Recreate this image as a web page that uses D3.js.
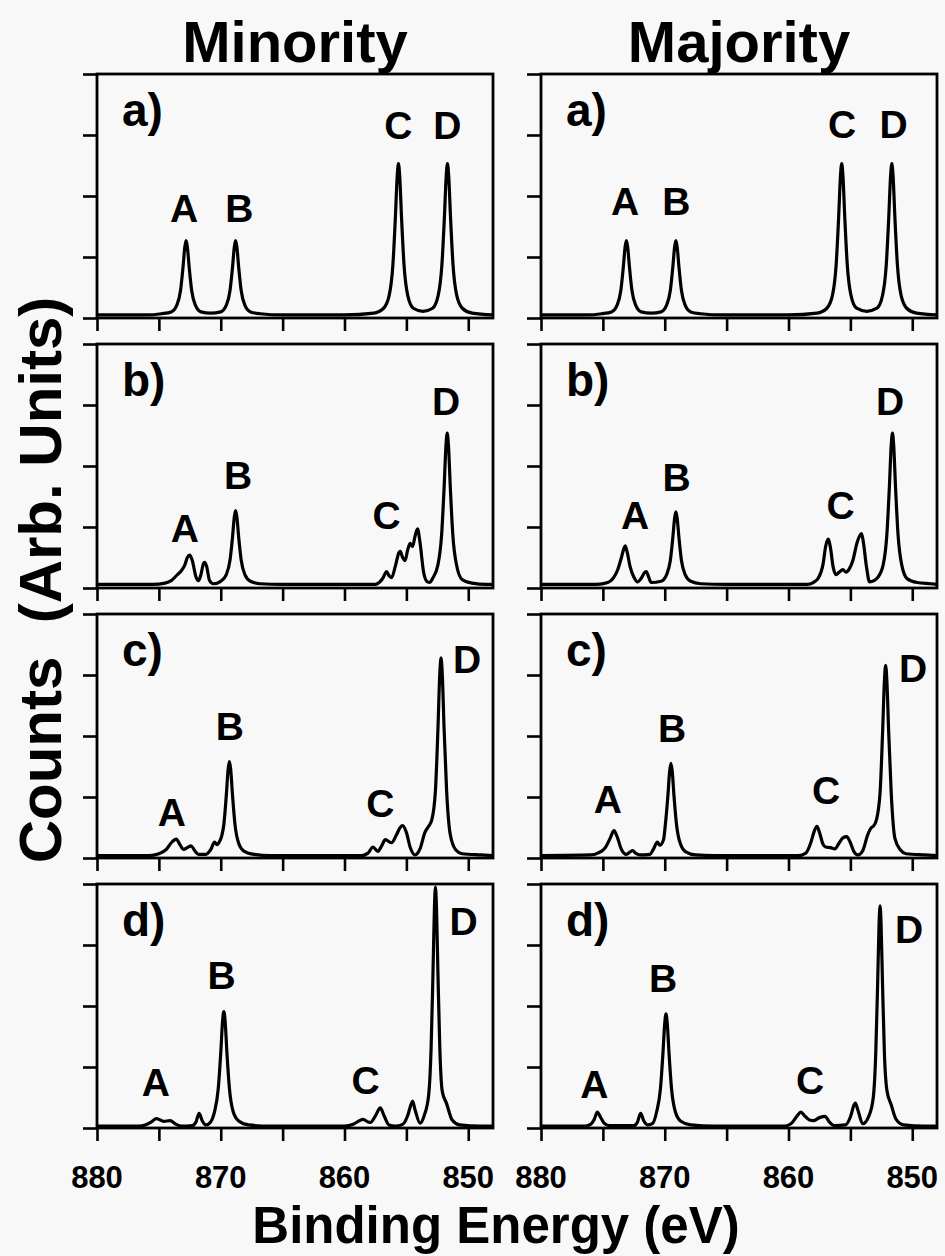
<!DOCTYPE html>
<html>
<head>
<meta charset="utf-8">
<script src="https://cdn.jsdelivr.net/npm/d3@7"></script>
<style>
  body { margin: 0; background: #f8f8f8; }
  text { font-family: "Liberation Sans", Arial, Helvetica, sans-serif; font-weight: bold; fill: #000; }
</style>
</head>
<body>
<svg id="plot"></svg>
<script>
// Axis values
const energyDomain = [880, 848];
const xTicks = [880, 875, 870, 865, 860, 855, 850];
const xTickLabels = [880, 870, 860, 850];
const yTicks = [0, 1, 2, 3, 4];
const columnTitles = ["Minority", "Majority"];
const rowLabels = ["a)", "b)", "c)", "d)"];

// Spectra: [binding energy (eV), counts (arb.)]
const minorityA = [[880,0.05],[876,0.05],[874.8,0.07],[874.0,0.1],[873.55,0.21],[873.25,0.45],[873.05,0.83],[872.9,1.17],[872.8,1.27],[872.7,1.17],[872.55,0.83],[872.35,0.45],[872.05,0.21],[871.6,0.1],[870.8,0.08],[870.0,0.1],[869.55,0.21],[869.25,0.45],[869.05,0.83],[868.9,1.17],[868.8,1.27],[868.7,1.17],[868.55,0.83],[868.35,0.45],[868.05,0.21],[867.6,0.1],[866.8,0.07],[865,0.05],[860,0.05],[857.64,0.08],[856.84,0.16],[856.39,0.37],[856.09,0.87],[855.89,1.64],[855.74,2.33],[855.64,2.53],[855.54,2.33],[855.39,1.64],[855.19,0.87],[854.89,0.37],[854.44,0.16],[853.66,0.11],[852.88,0.16],[852.43,0.37],[852.13,0.87],[851.93,1.64],[851.78,2.33],[851.68,2.53],[851.58,2.33],[851.43,1.64],[851.23,0.87],[850.93,0.37],[850.48,0.16],[849.68,0.08],[848,0.05]];
const majorityA = [[880,0.05],[876.3,0.05],[875.1,0.07],[874.3,0.1],[873.85,0.21],[873.55,0.45],[873.35,0.83],[873.2,1.17],[873.1,1.27],[873.0,1.17],[872.85,0.83],[872.65,0.45],[872.35,0.21],[871.9,0.1],[871.1,0.08],[870.3,0.1],[869.85,0.21],[869.55,0.45],[869.35,0.83],[869.2,1.17],[869.1,1.27],[869.0,1.17],[868.85,0.83],[868.65,0.45],[868.35,0.21],[867.9,0.1],[867.1,0.07],[865.3,0.05],[860,0.05],[857.7,0.08],[856.9,0.16],[856.45,0.37],[856.15,0.87],[855.95,1.64],[855.8,2.33],[855.7,2.53],[855.6,2.33],[855.45,1.64],[855.25,0.87],[854.95,0.37],[854.5,0.16],[853.68,0.11],[852.85,0.16],[852.4,0.37],[852.1,0.87],[851.9,1.64],[851.75,2.33],[851.65,2.53],[851.55,2.33],[851.4,1.64],[851.2,0.87],[850.9,0.37],[850.45,0.16],[849.65,0.08],[848,0.05]];
const minorityB = [[880,0.06],[875.5,0.06],[874.5,0.08],[874.0,0.12],[873.5,0.22],[873.2,0.28],[872.9,0.38],[872.7,0.5],[872.5,0.54],[872.3,0.45],[872.0,0.18],[871.8,0.12],[871.6,0.22],[871.4,0.4],[871.3,0.42],[871.15,0.36],[870.9,0.12],[870.6,0.07],[870.0,0.11],[869.55,0.22],[869.25,0.46],[869.05,0.83],[868.9,1.17],[868.8,1.27],[868.7,1.17],[868.55,0.83],[868.35,0.46],[868.05,0.22],[867.6,0.11],[866.8,0.07],[865,0.06],[860,0.06],[857.5,0.06],[857.2,0.09],[856.9,0.16],[856.6,0.27],[856.4,0.2],[856.2,0.17],[855.9,0.35],[855.6,0.58],[855.5,0.6],[855.3,0.5],[855.1,0.45],[854.9,0.62],[854.7,0.73],[854.5,0.68],[854.3,0.85],[854.1,0.97],[853.9,0.75],[853.6,0.25],[853.3,0.1],[853.1,0.09],[852.9,0.15],[852.45,0.38],[852.15,0.88],[851.95,1.65],[851.8,2.34],[851.7,2.54],[851.6,2.34],[851.45,1.65],[851.25,0.88],[850.95,0.38],[850.5,0.14],[849.7,0.08],[848.5,0.06],[848,0.06]];
const majorityB = [[880,0.06],[875.5,0.06],[874.6,0.09],[874.2,0.15],[873.8,0.3],[873.5,0.5],[873.3,0.65],[873.2,0.69],[873.05,0.6],[872.8,0.35],[872.5,0.18],[872.2,0.1],[871.9,0.16],[871.6,0.26],[871.5,0.27],[871.3,0.18],[871.1,0.09],[870.3,0.11],[869.85,0.22],[869.55,0.45],[869.35,0.82],[869.2,1.15],[869.1,1.25],[869.0,1.15],[868.85,0.82],[868.65,0.45],[868.35,0.22],[867.9,0.11],[867.1,0.07],[865,0.06],[860,0.06],[858.5,0.06],[858.0,0.09],[857.6,0.16],[857.2,0.4],[857.0,0.68],[856.8,0.8],[856.6,0.65],[856.4,0.35],[856.15,0.22],[855.9,0.26],[855.6,0.3],[855.35,0.26],[855.1,0.31],[854.8,0.45],[854.45,0.75],[854.2,0.87],[854.1,0.89],[853.95,0.75],[853.7,0.35],[853.45,0.1],[853.1,0.12],[852.8,0.17],[852.35,0.38],[852.05,0.88],[851.85,1.65],[851.7,2.34],[851.6,2.54],[851.5,2.34],[851.35,1.65],[851.15,0.88],[850.85,0.38],[850.4,0.15],[849.6,0.09],[848.5,0.07],[848,0.06]];
const minorityC = [[880,0.04],[875.8,0.04],[875.0,0.07],[874.4,0.14],[874.0,0.25],[873.6,0.31],[873.3,0.22],[873.0,0.14],[872.7,0.17],[872.4,0.2],[872.1,0.12],[871.8,0.06],[871.2,0.06],[870.8,0.14],[870.5,0.26],[870.3,0.22],[870.1,0.27],[869.9,0.38],[869.75,0.55],[869.55,1.03],[869.4,1.46],[869.3,1.58],[869.2,1.46],[869.05,1.03],[868.85,0.55],[868.55,0.24],[868.1,0.11],[867.3,0.06],[866,0.04],[860,0.04],[858.6,0.04],[858.1,0.08],[857.7,0.18],[857.3,0.11],[857.0,0.2],[856.7,0.3],[856.2,0.25],[855.8,0.38],[855.5,0.5],[855.3,0.53],[855.0,0.42],[854.7,0.18],[854.3,0.05],[853.9,0.15],[853.5,0.42],[853.2,0.52],[852.95,0.62],[852.65,1.11],[852.45,2.11],[852.3,3.02],[852.2,3.28],[852.1,3.02],[851.95,2.11],[851.75,1.11],[851.45,0.38],[851.0,0.13],[850.5,0.07],[849,0.05],[848,0.04]];
const majorityC = [[880,0.04],[876.0,0.05],[875.4,0.08],[874.8,0.17],[874.4,0.33],[874.1,0.45],[873.85,0.35],[873.5,0.14],[873.1,0.06],[872.8,0.1],[872.6,0.12],[872.3,0.07],[872.0,0.05],[871.2,0.06],[870.9,0.15],[870.6,0.26],[870.4,0.21],[870.1,0.3],[869.95,0.55],[869.75,1.01],[869.6,1.43],[869.5,1.55],[869.4,1.43],[869.25,1.01],[869.05,0.55],[868.75,0.24],[868.3,0.1],[867.5,0.05],[866,0.04],[860,0.04],[859.2,0.04],[858.6,0.08],[858.2,0.25],[857.9,0.45],[857.7,0.52],[857.5,0.42],[857.2,0.22],[857.0,0.18],[856.6,0.17],[856.25,0.15],[855.9,0.25],[855.6,0.33],[855.3,0.35],[855.0,0.25],[854.7,0.1],[854.4,0.05],[854.0,0.12],[853.6,0.38],[853.3,0.5],[853.15,0.52],[852.9,0.62],[852.6,1.07],[852.4,2.04],[852.25,2.9],[852.15,3.16],[852.05,2.9],[851.9,2.04],[851.7,1.07],[851.4,0.32],[850.95,0.13],[850.5,0.07],[849,0.05],[848,0.04]];
const minorityD = [[880,0.03],[876.6,0.03],[876.1,0.05],[875.6,0.1],[875.2,0.155],[874.6,0.11],[874.1,0.12],[873.6,0.06],[873.2,0.03],[872.3,0.04],[872.0,0.1],[871.75,0.24],[871.5,0.12],[871.2,0.05],[870.95,0.07],[870.5,0.27],[870.2,0.65],[870.0,1.23],[869.85,1.76],[869.75,1.91],[869.65,1.76],[869.5,1.23],[869.3,0.65],[869.0,0.27],[868.55,0.115],[867.75,0.05],[866,0.03],[860,0.03],[859.3,0.06],[858.8,0.12],[858.5,0.14],[858.1,0.1],[857.9,0.09],[857.5,0.2],[857.1,0.33],[856.8,0.2],[856.4,0.05],[855.9,0.03],[855.3,0.06],[854.9,0.2],[854.6,0.4],[854.5,0.44],[854.3,0.3],[853.9,0.08],[853.55,0.21],[853.2,0.54],[853.0,1.32],[852.85,2.54],[852.73,3.63],[852.65,3.95],[852.57,3.63],[852.45,2.54],[852.3,1.32],[852.1,0.6],[851.75,0.4],[851.3,0.13],[850.7,0.05],[849,0.03],[848,0.03]];
const majorityD = [[880,0.03],[876.5,0.03],[876.0,0.06],[875.7,0.14],[875.45,0.26],[875.2,0.18],[874.9,0.08],[874.5,0.04],[872.5,0.04],[872.2,0.1],[871.95,0.24],[871.7,0.12],[871.35,0.05],[871.0,0.07],[870.65,0.27],[870.35,0.64],[870.15,1.21],[870.0,1.72],[869.9,1.87],[869.8,1.72],[869.65,1.21],[869.45,0.64],[869.15,0.27],[868.7,0.11],[867.9,0.05],[866,0.03],[860.4,0.03],[859.8,0.07],[859.3,0.2],[859.0,0.26],[858.7,0.2],[858.3,0.13],[858.0,0.12],[857.5,0.17],[857.05,0.19],[856.7,0.1],[856.3,0.04],[855.4,0.05],[855.0,0.18],[854.7,0.38],[854.6,0.41],[854.4,0.3],[854.0,0.07],[853.5,0.2],[853.15,0.5],[852.95,1.22],[852.8,2.34],[852.68,3.35],[852.6,3.64],[852.52,3.35],[852.4,2.34],[852.25,1.22],[852.05,0.62],[851.7,0.38],[851.3,0.14],[850.7,0.05],[849,0.03],[848,0.03]];

// Peak letters: [letter, energy, level]
const minorityALabels = [["A",872.97,1.58],["B",868.5,1.58],["C",855.64,2.93],["D",851.7,2.93]];
const majorityALabels = [["A",873.2,1.69],["B",869.07,1.69],["C",855.67,2.95],["D",851.5,2.95]];
const minorityBLabels = [["A",872.9,0.76],["B",868.6,1.62],["C",856.6,0.97],["D",851.8,2.84]];
const majorityBLabels = [["A",872.4,0.97],["B",869.05,1.59],["C",855.8,1.13],["D",851.8,2.84]];
const minorityCLabels = [["A",873.96,0.52],["B",869.27,1.94],["C",857.1,0.68],["D",850.1,3.03]];
const majorityCLabels = [["A",874.6,0.73],["B",869.4,1.9],["C",856.97,0.89],["D",849.94,2.89]];
const minorityDLabels = [["A",875.24,0.52],["B",869.93,2.28],["C",858.3,0.56],["D",850.37,3.16]];
const majorityDLabels = [["A",875.7,0.5],["B",870.13,2.23],["C",858.25,0.55],["D",850.25,3.03]];

const spectra = [[minorityA, majorityA], [minorityB, majorityB], [minorityC, majorityC], [minorityD, majorityD]];
const peakLabels = [[minorityALabels, majorityALabels], [minorityBLabels, majorityBLabels],
                    [minorityCLabels, majorityCLabels], [minorityDLabels, majorityDLabels]];

// Layout
const width = 945, height = 1256;
const colLeft = [97, 541], panelW = 396;
const rowTop = [74, 344, 614, 884], panelH = 244;

const svg = d3.select("#plot")
    .attr("width", width)
    .attr("height", height);

const x = d3.scaleLinear().domain(energyDomain).range([0, panelW]);
const y = d3.scaleLinear().domain([0, 4]).range([panelH, 0]);

const line = d3.line()
    .x(d => x(d[0]))
    .y(d => y(d[1]))
    .curve(d3.curveMonotoneX);

rowLabels.forEach((rowLabel, r) => {
  columnTitles.forEach((title, c) => {
    const g = svg.append("g")
        .attr("transform", `translate(${colLeft[c]},${rowTop[r]})`);

    // y ticks (no labels)
    g.append("g")
        .call(d3.axisLeft(y).tickValues(yTicks).tickSize(14).tickFormat(""))
        .call(a => a.select(".domain").remove())
        .selectAll("line").attr("stroke", "#000").attr("stroke-width", 2.6);

    // x ticks
    g.append("g")
        .attr("transform", `translate(0,${panelH})`)
        .call(d3.axisBottom(x).tickValues(xTicks).tickSize(13).tickFormat(""))
        .call(a => a.select(".domain").remove())
        .selectAll("line").attr("stroke", "#000").attr("stroke-width", 2.6);

    // frame
    g.append("rect")
        .attr("width", panelW)
        .attr("height", panelH)
        .attr("fill", "none")
        .attr("stroke", "#000")
        .attr("stroke-width", 2.8);

    // spectrum
    g.append("path")
        .datum(spectra[r][c])
        .attr("d", line)
        .attr("fill", "none")
        .attr("stroke", "#000")
        .attr("stroke-width", 3.2)
        .attr("stroke-linejoin", "round");

    // panel label
    g.append("text")
        .attr("x", 25)
        .attr("y", 52)
        .style("font-size", "46px")
        .text(rowLabel);

    // peak letters
    g.selectAll(".peak")
      .data(peakLabels[r][c])
      .enter().append("text")
        .attr("class", "peak")
        .attr("x", d => x(d[1]))
        .attr("y", d => y(d[2]))
        .attr("text-anchor", "middle")
        .style("font-size", "39px")
        .text(d => d[0]);

    // tick labels on the bottom row
    if (r === rowLabels.length - 1) {
      g.selectAll(".tick-label")
        .data(xTickLabels)
        .enter().append("text")
          .attr("class", "tick-label")
          .attr("x", d => x(d))
          .attr("y", panelH + 60)
          .attr("text-anchor", "middle")
          .style("font-size", "31px")
          .text(d => d);
    }

    // column title
    if (r === 0) {
      svg.append("text")
          .attr("x", colLeft[c] + panelW / 2)
          .attr("y", 62)
          .attr("text-anchor", "middle")
          .style("font-size", "58px")
          .text(title);
    }
  });
});

// axis titles
svg.append("text")
    .attr("transform", "translate(61,580) rotate(-90)")
    .attr("text-anchor", "middle")
    .style("font-size", "60px")
    .text("Counts\u00A0 (Arb. Units)");

svg.append("text")
    .attr("x", 496)
    .attr("y", 1243)
    .attr("text-anchor", "middle")
    .style("font-size", "51px")
    .text("Binding Energy (eV)");
</script>
</body>
</html>
